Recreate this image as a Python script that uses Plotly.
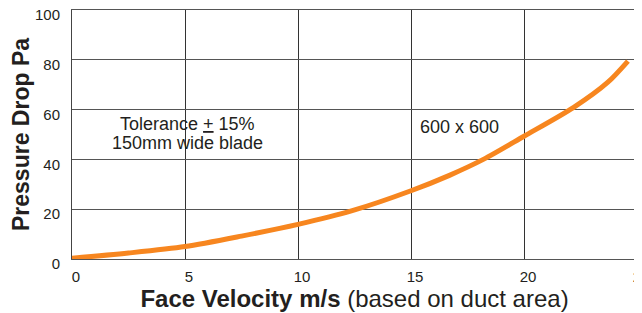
import plotly.graph_objects as go

velocity = [0, 2.5, 5, 7.5, 10, 12.4, 15, 16.7, 18.2, 20, 22.2, 23.7, 24.6]
pressure = [0.3, 2.4, 5.0, 9.2, 13.9, 19.4, 27.4, 33.6, 40.0, 49.3, 60.9, 70.9, 79.5]

x_ticks = [0, 5, 10, 15, 20, 25]
y_ticks = [0, 20, 40, 60, 80, 100]

FONT = "Liberation Sans, Arial, sans-serif"
TEXT = "#231f20"

fig = go.Figure()
fig.add_trace(go.Scatter(
    x=velocity, y=pressure, mode="lines",
    line=dict(color="#F7861F", width=5, shape="spline", smoothing=0.8),
    hoverinfo="skip", showlegend=False))

fig.add_annotation(x=5.1, y=54.2, text="Tolerance <u>+</u> 15%", showarrow=False,
                   font=dict(family=FONT, size=18, color=TEXT))
fig.add_annotation(x=5.1, y=46.7, text="150mm wide blade", showarrow=False,
                   font=dict(family=FONT, size=18, color=TEXT))
fig.add_annotation(x=17.15, y=53.1, text="600 x 600", showarrow=False,
                   font=dict(family=FONT, size=18, color=TEXT))

# page body adds an 8px margin; size the figure so the plot lands where the reference has it
fig.update_layout(
    width=634, height=305,
    margin=dict(l=64, r=5, t=2, b=54, autoexpand=False),
    paper_bgcolor="white", plot_bgcolor="white",
    font=dict(family=FONT, color=TEXT),
    xaxis=dict(range=[0, 25], tickvals=x_ticks, ticktext=[str(v) for v in x_ticks],
               showgrid=True, gridcolor="#333", gridwidth=1,
               showline=True, linecolor="#555", linewidth=1, mirror=True,
               zeroline=False, ticks="", ticklabelshift=4, ticklabelstandoff=4,
               ticklabeloverflow="allow", automargin=False,
               tickfont=dict(size=15, family=FONT, color=TEXT),
               title=dict(text="<b>Face Velocity m/s</b> (based on duct area)",
                          font=dict(size=24, family=FONT, color=TEXT), standoff=4)),
    yaxis=dict(range=[0, 100], tickvals=y_ticks, ticktext=[str(v) for v in y_ticks],
               showgrid=True, gridcolor="#555", gridwidth=1,
               showline=True, linecolor="#444", linewidth=1, mirror=True,
               zeroline=False, ticks="", ticklabelshift=5, ticklabelstandoff=8,
               ticklabeloverflow="allow", automargin=False,
               tickfont=dict(size=15, family=FONT, color=TEXT),
               title=dict(text="<b>Pressure Drop Pa</b>",
                          font=dict(size=23, family=FONT, color=TEXT), standoff=19)),
)

fig.write_html("out.html")
